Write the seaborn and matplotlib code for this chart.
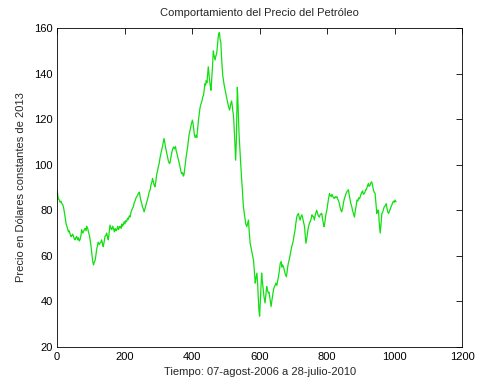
import matplotlib
matplotlib.use("Agg")
import matplotlib.pyplot as plt
import seaborn as sns
import pandas as pd

# Trading-day index and oil price (constant 2013 dollars)
day = [0, 2, 4, 7, 9, 12, 14, 17, 19, 22, 24, 27, 29, 32, 34, 36, 38, 41, 43, 46,
       48, 51, 53, 56, 58, 61, 63, 66, 68, 71, 73, 76, 78, 81, 83, 86, 88, 91, 93, 96,
       98, 101, 103, 106, 108, 110, 113, 115, 117, 120, 122, 125, 127, 130, 132, 135, 137, 140, 142, 145,
       147, 150, 152, 155, 157, 160, 162, 165, 167, 170, 172, 175, 177, 180, 182, 185, 187, 190, 192, 194,
       196, 199, 201, 204, 206, 209, 211, 214, 216, 219, 221, 224, 226, 229, 231, 234, 236, 239, 241, 244,
       246, 248, 251, 253, 256, 258, 261, 263, 266, 268, 271, 273, 276, 278, 281, 283, 286, 288, 290, 293,
       295, 298, 300, 303, 305, 308, 310, 313, 315, 317, 319, 321, 323, 325, 328, 330, 333, 335, 337, 340,
       343, 345, 348, 351, 353, 356, 358, 360, 363, 365, 367, 369, 372, 374, 376, 378, 380, 382, 384, 387,
       389, 391, 394, 396, 398, 401, 403, 405, 407, 409, 412, 414, 416, 419, 421, 423, 425, 427, 430, 432,
       434, 436, 438, 440, 442, 444, 446, 448, 450, 452, 454, 456, 458, 460, 462, 463, 465, 468, 470, 473,
       475, 477, 479, 481, 483, 485, 487, 489, 491, 493, 495, 498, 500, 503, 506, 508, 511, 513, 515, 517,
       519, 521, 522, 524, 526, 528, 529, 531, 533, 534, 536, 538, 539, 541, 543, 545, 547, 549, 550, 552,
       555, 557, 559, 562, 564, 567, 569, 572, 574, 577, 579, 582, 584, 587, 589, 592, 594, 596, 598, 600,
       602, 604, 606, 608, 611, 613, 616, 618, 621, 623, 626, 628, 631, 634, 636, 639, 641, 644, 646, 648,
       651, 654, 656, 659, 661, 664, 666, 668, 671, 673, 676, 679, 681, 683, 685, 688, 690, 693, 695, 698,
       700, 702, 705, 707, 710, 712, 715, 717, 720, 722, 725, 727, 730, 733, 735, 737, 740, 743, 745, 748,
       750, 753, 755, 757, 760, 762, 765, 767, 769, 772, 774, 777, 779, 782, 784, 786, 789, 791, 794, 796,
       799, 801, 804, 807, 809, 812, 814, 817, 819, 821, 824, 826, 829, 831, 834, 836, 838, 841, 843, 846,
       848, 850, 853, 855, 858, 860, 863, 865, 868, 870, 873, 875, 878, 881, 883, 886, 888, 891, 893, 896,
       898, 900, 903, 905, 907, 910, 912, 914, 916, 919, 922, 924, 927, 929, 932, 934, 937, 939, 942, 944,
       947, 949, 952, 954, 957, 959, 962, 964, 967, 969, 972, 975, 977, 979, 982, 984, 987, 989, 992, 995,
       997, 999, 1001, 1004]

price = [89, 87, 85, 84.5, 83.5, 84, 83, 82.5, 81.5, 79, 77, 74, 73, 71.5, 70.5, 71, 70, 68.5, 68.5, 69.5,
         69, 67.5, 67, 68, 68.5, 67, 68, 66.5, 67, 69, 71.5, 70, 70.5, 71.5, 72, 71, 73, 72, 70.5, 69,
         67, 64, 61, 57.5, 56, 57, 58, 60, 62.5, 64.5, 66, 65, 65.5, 66, 67, 65, 64, 66.5, 68.5, 69,
         70, 68, 67, 71, 73.5, 72, 71.5, 73, 72, 70.5, 72, 71, 71.5, 73, 71.5, 72.5, 73, 72, 74, 73,
         73.5, 75, 74, 75.5, 75, 76.5, 76, 77.5, 77, 79, 80, 81, 81.5, 83.5, 84, 85.5, 86, 86.5, 87.5, 88,
         86, 84.5, 83, 81.5, 80.5, 79.3, 81, 82, 83.7, 85, 86.5, 88, 89, 91, 92.5, 94, 92, 91, 90.3, 93,
         95.5, 97.5, 99, 101, 103, 105, 106.4, 108.5, 110, 111.5, 110, 108, 106.5, 105, 103, 101.5, 100.5, 101, 103, 105.5,
         107, 107.8, 107, 108, 106, 104.5, 103, 102, 100, 98.5, 97, 96, 96.5, 95, 95.5, 98, 100.5, 103, 105, 108,
         110.5, 113, 115, 116.5, 118, 119.6, 118, 115.5, 113, 112, 113, 112, 115, 119.6, 122, 124.5, 126, 127, 128.5, 130,
         130.5, 133, 135.6, 135, 137, 136, 139.5, 143, 140, 137, 134.5, 132.7, 137, 142, 147, 150, 148, 146, 147.5, 149,
         152, 155.5, 157.6, 158, 155, 154, 148, 143, 139, 137, 135, 132.7, 131, 129, 127, 125.5, 124, 125.5, 127, 128,
         126, 123, 122.6, 118, 112, 105, 102, 110, 125, 134, 127, 118, 113.8, 108, 103, 97.6, 93, 89, 86, 81.5,
         78, 76, 74, 72.8, 74, 75.7, 71, 65.5, 64, 62, 60, 58, 54, 48, 50, 52.4, 48, 42, 36, 33.5,
         40, 47, 52.4, 49, 45, 42, 39.3, 42, 46.5, 45, 43.7, 44, 41, 37.7, 40, 43, 45, 46.5, 47, 48,
         47, 49.4, 51, 54, 56.7, 57.5, 55, 56, 55, 53.8, 52, 50.8, 52.5, 55, 56.7, 58.5, 60, 62.5, 64, 65.5,
         67, 69, 71.3, 74, 77, 78, 78.6, 77, 75.7, 77, 78, 77, 75, 72.8, 69, 65.5, 68, 71.3, 73, 74.5,
         75, 76.5, 78, 77.5, 77, 75.7, 78, 79, 80, 78.5, 77.5, 77, 78, 78.5, 78.6, 76.5, 74, 72.8, 75.5, 78,
         80, 82, 85, 87.4, 86.5, 86, 87, 86, 85.5, 85.2, 86, 85.5, 86, 85, 84, 83, 81.5, 80, 79.3, 81,
         83, 84.5, 86, 87, 88, 88.5, 89, 87, 84.5, 83, 81.5, 80, 78.5, 77, 79.5, 82, 84.5, 84, 85.5, 85,
         86, 87, 88, 88.5, 87, 87.4, 88, 89, 89, 90.5, 91.8, 90.5, 91, 92, 92.5, 91, 89, 88, 87.4, 84,
         78.6, 80, 80, 75, 70, 73, 78.6, 79, 80.5, 81.5, 82, 82.9, 81, 79.5, 78.6, 79.5, 80.5, 81.5, 82.5, 83.7,
         84, 83.5, 84.5, 83.7]

x_ticks = [0, 200, 400, 600, 800, 1000, 1200]
y_ticks = [20, 40, 60, 80, 100, 120, 140, 160]

sns.set_style("white")
plt.rcParams["font.family"] = ["Liberation Sans", "DejaVu Sans"]
plt.rcParams["xtick.direction"] = "in"
plt.rcParams["ytick.direction"] = "in"

df = pd.DataFrame({"dia": day, "precio": price})

fig = plt.figure(figsize=(4.79, 3.85), dpi=100)
ax = fig.add_axes([0.119, 0.099, 0.846, 0.828])

sns.lineplot(data=df, x="dia", y="precio", ax=ax, color="#10e010", linewidth=0.9)

ax.set_xlim(0, 1200)
ax.set_ylim(20, 160)
ax.set_xticks(x_ticks)
ax.set_yticks(y_ticks)
ax.tick_params(axis="both", labelsize=8, length=4, width=0.6, colors="black",
               top=True, right=True)
ax.tick_params(axis="x", pad=4)
ax.tick_params(axis="y", pad=3)
for side in ax.spines.values():
    side.set_visible(True)
    side.set_color("black")
    side.set_linewidth(0.6)

ax.set_title("Comportamiento del Precio del Petróleo", fontsize=8, pad=9)
ax.set_xlabel("Tiempo: 07-agost-2006 a 28-julio-2010", fontsize=8, labelpad=3)
ax.set_ylabel("Precio en Dólares constantes de 2013", fontsize=8, labelpad=6)

fig.savefig("out.png", dpi=100)
